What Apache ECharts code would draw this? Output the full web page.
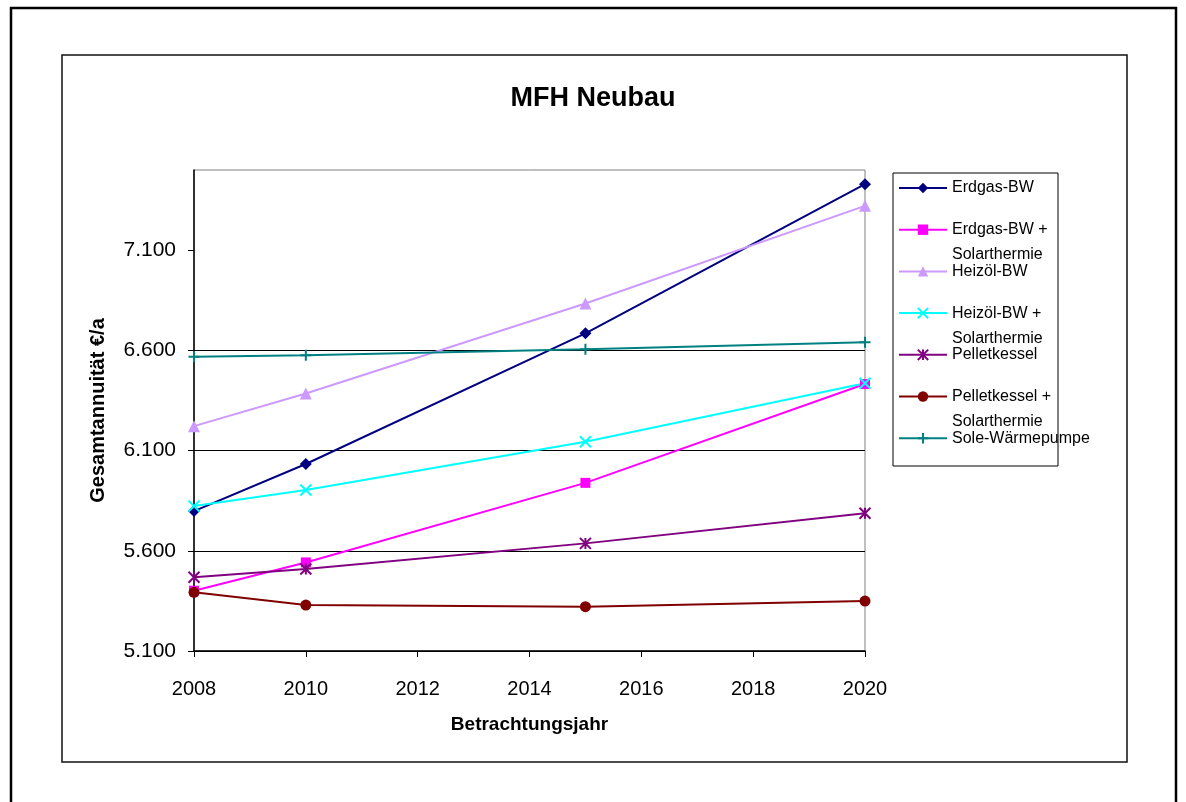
<!DOCTYPE html>
<html>
<head>
<meta charset="utf-8">
<script src="https://cdn.jsdelivr.net/npm/echarts@6/dist/echarts.min.js"></script>
<style>
	html, body { margin: 0; padding: 0; background: #fff; }
	#chart { width: 1186px; height: 802px; }
</style>
</head>
<body>
<div id="chart"></div>
<script>
// Jahre mit Markern
var years = [2008, 2010, 2015, 2020];

// Gesamtannuität in €/a
var erdgasBW = [5798, 6033, 6685, 7429];
var erdgasBWSolar = [5401, 5542, 5939, 6432];
var heizoelBW = [6222, 6385, 6834, 7321];
var heizoelBWSolar = [5823, 5903, 6144, 6436];
var pellet = [5468, 5509, 5637, 5787];
var pelletSolar = [5393, 5329, 5321, 5349];
var sole = [6568, 6576, 6606, 6640];

// y-Achse beginnt bei 5.100, Teilung 500
var yBase = 5100;
var yTop = 7500;
var yTicks = [5100, 5600, 6100, 6600, 7100];

var seriesNames = ['Erdgas-BW', 'Erdgas-BW + Solarthermie', 'Heizöl-BW', 'Heizöl-BW + Solarthermie',
	'Pelletkessel', 'Pelletkessel + Solarthermie', 'Sole-Wärmepumpe'];
var seriesData = [erdgasBW, erdgasBWSolar, heizoelBW, heizoelBWSolar, pellet, pelletSolar, sole];
var seriesColors = ['#000080', '#ff00ff', '#cc99ff', '#00ffff', '#800080', '#800000', '#008080'];
var seriesSymbols = ['diamond', 'rect', 'triangle',
	'path://M0,0L10,10M10,0L0,10',
	'path://M0,0L10,10M10,0L0,10M5,0L5,10',
	'circle',
	'path://M5,0L5,10M0,5L10,5'];
var symbolSizes = [12, 10, 12, 11, 11, 11, 11];
var strokeOnly = [false, false, false, true, true, false, true];

function fmt(v) {
	var s = String(v);
	return s.length > 3 ? s.slice(0, s.length - 3) + '.' + s.slice(s.length - 3) : s;
}

var series = [];
for (var i = 0; i < seriesNames.length; i++) {
	var vals = seriesData[i];
	series.push({
		name: seriesNames[i],
		type: 'line',
		symbol: seriesSymbols[i],
		symbolSize: symbolSizes[i],
		showAllSymbol: true,
		animation: false,
		lineStyle: { color: seriesColors[i], width: 2 },
		itemStyle: strokeOnly[i] ? {
			color: seriesColors[i],
			borderColor: seriesColors[i],
			borderWidth: 2
		} : { color: seriesColors[i] },
		data: years.map(function (y, k) { return [y, vals[k] - yBase]; })
	});
}

var option = {
	backgroundColor: '#fff',
	title: {
		text: 'MFH Neubau',
		left: 'center',
		top: 80,
		textStyle: { fontFamily: 'Liberation Sans, Arial', fontSize: 27, fontWeight: 'bold', color: '#000' }
	},
	legend: {
		orient: 'vertical',
		left: 898,
		top: 150.5,
		padding: 0,
		itemGap: -33.3,
		itemWidth: 48,
		itemHeight: 13,
		selectedMode: false,
		// drei Zeilen je Eintrag: die erste Textzeile steht auf Höhe des Symbols
		formatter: function (name) {
			if (name.indexOf(' + ') > 0) {
				return ' \n' + name.replace(' + ', ' +\n');
			}
			return ' \n' + name + '\n ';
		},
		textStyle: { fontFamily: 'Liberation Sans, Arial', fontSize: 16, lineHeight: 25, color: '#000' },
		data: seriesNames
	},
	grid: {
		left: 194,
		right: 321,
		top: 170,
		bottom: 151,
		show: true,
		borderColor: '#808080',
		borderWidth: 1,
		containLabel: false
	},
	xAxis: {
		type: 'value',
		min: 2008,
		max: 2020,
		interval: 2,
		name: 'Betrachtungsjahr',
		nameLocation: 'middle',
		nameGap: 64,
		nameTextStyle: { fontFamily: 'Liberation Sans, Arial', fontSize: 19, fontWeight: 'bold', color: '#000' },
		axisLine: { lineStyle: { color: '#000', width: 1.5 } },
		axisTick: { show: true, length: 6, lineStyle: { color: '#000' } },
		axisLabel: {
			margin: 28,
			fontFamily: 'Liberation Sans, Arial',
			fontSize: 20,
			color: '#000',
			formatter: function (v) { return String(v); }
		},
		splitLine: { show: false }
	},
	yAxis: {
		type: 'value',
		min: 0,
		max: yTop - yBase,
		interval: 500,
		name: 'Gesamtannuität €/a',
		nameLocation: 'middle',
		nameGap: 86,
		nameTextStyle: { fontFamily: 'Liberation Sans, Arial', fontSize: 20, fontWeight: 'bold', color: '#000' },
		axisLine: { show: true, lineStyle: { color: '#000', width: 1.5 } },
		axisTick: {
			show: true,
			length: 6,
			lineStyle: { color: '#000' },
			customValues: yTicks.map(function (t) { return t - yBase; })
		},
		axisLabel: {
			margin: 18,
			fontFamily: 'Liberation Sans, Arial',
			fontSize: 21,
			color: '#000',
			showMaxLabel: false,
			formatter: function (v) { return v + yBase === yTop ? '' : fmt(v + yBase); }
		},
		splitLine: { show: true, showMaxLine: false, lineStyle: { color: '#000', width: 1 } }
	},
	graphic: [
		{
			type: 'rect',
			shape: { x: 11, y: 8, width: 1165, height: 810 },
			style: { fill: 'none', stroke: '#000', lineWidth: 2.5 },
			silent: true
		},
		{
			type: 'rect',
			shape: { x: 62, y: 55, width: 1065, height: 707 },
			style: { fill: 'none', stroke: '#111', lineWidth: 1.5 },
			silent: true
		},
		{
			type: 'rect',
			shape: { x: 893, y: 173, width: 165, height: 293 },
			style: { fill: 'none', stroke: '#000', lineWidth: 1 },
			silent: true
		}
	],
	series: series
};

var chart = echarts.init(document.getElementById('chart'), null, { renderer: 'canvas' });
chart.setOption(option);
</script>
</body>
</html>
